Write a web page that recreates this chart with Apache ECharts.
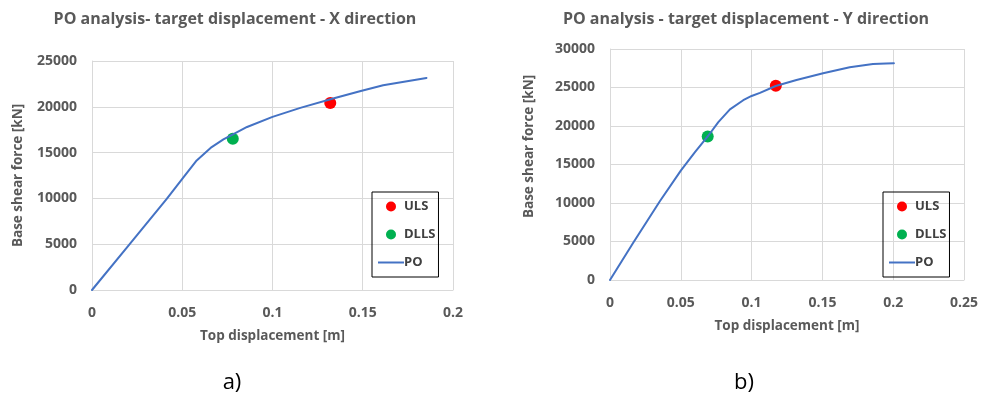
<!DOCTYPE html>
<html>
<head>
<meta charset="utf-8">
<script src="https://cdn.jsdelivr.net/npm/echarts@6/dist/echarts.min.js"></script>
<style>
  html, body { margin: 0; padding: 0; background: #ffffff; }
  #chart { width: 981px; height: 399px; }
</style>
</head>
<body>
<div id="chart"></div>
<script>
// Pushover curve, X direction: top displacement [m] vs base shear [kN]
const poXDisp  = [0, 0.0211, 0.0414, 0.05, 0.058, 0.0663, 0.0728, 0.0781, 0.0859, 0.1, 0.1154, 0.1336, 0.1484, 0.1613, 0.1853];
const poXShear = [0, 5070, 9950, 12140, 14140, 15600, 16450, 17000, 17800, 18900, 19880, 20900, 21700, 22350, 23150];
// Target displacement points, X direction
const ulsX  = [0.132, 20420];
const dllsX = [0.078, 16510];

// Pushover curve, Y direction
const poYDisp  = [0, 0.0164, 0.0352, 0.05, 0.06, 0.069, 0.0765, 0.0847, 0.0941, 0.1, 0.1059, 0.117, 0.1317, 0.1505, 0.1693, 0.1857, 0.195, 0.2005];
const poYShear = [0, 4850, 10230, 14200, 16600, 18640, 20500, 22150, 23350, 23900, 24300, 25200, 25980, 26840, 27620, 28040, 28110, 28140];
// Target displacement points, Y direction
const ulsY  = [0.1171, 25240];
const dllsY = [0.069, 18640];

const legendNames = ['ULS', 'DLLS', 'PO'];
const titles = ['PO analysis- target displacement - X direction', 'PO analysis - target displacement - Y direction'];
const panelTags = ['a)', 'b)'];
const xAxisName = 'Top displacement [m]';
const yAxisName = 'Base shear force [kN]';

const FONT = '"Open Sans", "Noto Sans", sans-serif';
const TXT = '#595959';
const GRID_C = '#d9d9d9';
const PO_COLOR = '#4472C4';

const zip = (xs, ys) => xs.map((x, i) => [x, ys[i]]);

function xAxisCfg(idx, max) {
  return {
    type: 'value', gridIndex: idx, min: 0, max: max, interval: 0.05,
    name: xAxisName, nameLocation: 'middle', nameGap: 39,
    nameTextStyle: { fontFamily: FONT, fontWeight: 'bold', fontSize: 13.5, color: TXT },
    axisLine: { show: true, lineStyle: { color: GRID_C, width: 1 } },
    axisTick: { show: false },
    axisLabel: { margin: 16, fontFamily: FONT, fontWeight: 'bold', fontSize: 14, color: TXT,
                 formatter: v => String(+v.toFixed(2)) },
    splitLine: { show: true, lineStyle: { color: GRID_C, width: 1 } }
  };
}
function yAxisCfg(idx, max, gap, pad) {
  return {
    type: 'value', gridIndex: idx, min: 0, max: max, interval: 5000,
    name: yAxisName, nameLocation: 'middle', nameGap: gap,
    nameTextStyle: { fontFamily: FONT, fontWeight: 'bold', fontSize: 13.5, color: TXT, padding: pad },
    axisLine: { show: true, lineStyle: { color: GRID_C, width: 1 } },
    axisTick: { show: false },
    axisLabel: { margin: 15, fontFamily: FONT, fontWeight: 'bold', fontSize: 14, color: TXT,
                 formatter: v => String(v) },
    splitLine: { show: true, lineStyle: { color: GRID_C, width: 1 } }
  };
}
function pointSeries(name, idx, pt, color) {
  return {
    name: name, type: 'scatter', xAxisIndex: idx, yAxisIndex: idx,
    symbol: 'circle', symbolSize: 12, itemStyle: { color: color, opacity: 1 },
    data: [pt], z: 2
  };
}
function curveSeries(idx, xs, ys) {
  return {
    name: 'PO', type: 'line', xAxisIndex: idx, yAxisIndex: idx,
    data: zip(xs, ys), symbol: 'none', showSymbol: false, smooth: false,
    lineStyle: { color: PO_COLOR, width: 2, join: 'round', cap: 'round' },
    itemStyle: { color: PO_COLOR }, z: 3
  };
}
function legendCfg(left) {
  return {
    data: [
      { name: legendNames[0], icon: 'circle' },
      { name: legendNames[1], icon: 'circle' },
      { name: legendNames[2], icon: 'path://M0,0H26V2H0Z' }
    ],
    orient: 'vertical', left: left, top: 192,
    borderColor: '#000000', borderWidth: 1, padding: [8, 3, 8, 6],
    itemWidth: 26, itemHeight: 10, itemGap: 15,
    textStyle: { fontFamily: FONT, fontWeight: 'bold', fontSize: 13, color: '#404040', padding: [0, 0, 0, -5] },
    selectedMode: false
  };
}
function textItem(str, x, y, size, weight, color) {
  return {
    type: 'text', x: x, y: y,
    style: { text: str, textAlign: 'center', textVerticalAlign: 'middle',
             font: weight + ' ' + size + 'px ' + FONT, fill: color }
  };
}

const chart = echarts.init(document.getElementById('chart'), null, { renderer: 'canvas' });
chart.setOption({
  animation: false,
  backgroundColor: '#ffffff',
  grid: [
    { left: 92, top: 61, width: 361, height: 229 },
    { left: 610, top: 49, width: 355, height: 231 }
  ],
  xAxis: [xAxisCfg(0, 0.2), xAxisCfg(1, 0.25)],
  yAxis: [yAxisCfg(0, 25000, 67, [0, 0, 0, 0]), yAxisCfg(1, 30000, 74, [0, 0, 0, 36])],
  legend: [legendCfg(372), legendCfg(883)],
  graphic: [
    textItem(titles[0], 235, 19, 16, 'bold', TXT),
    textItem(titles[1], 746, 19, 16, 'bold', TXT),
    textItem(panelTags[0], 232, 383, 22, 'normal', '#000000'),
    textItem(panelTags[1], 744, 383, 22, 'normal', '#000000')
  ],
  series: [
    pointSeries('ULS', 0, ulsX, '#FF0000'),
    pointSeries('DLLS', 0, dllsX, '#00B050'),
    curveSeries(0, poXDisp, poXShear),
    pointSeries('ULS', 1, ulsY, '#FF0000'),
    pointSeries('DLLS', 1, dllsY, '#00B050'),
    curveSeries(1, poYDisp, poYShear)
  ]
});
</script>
</body>
</html>
